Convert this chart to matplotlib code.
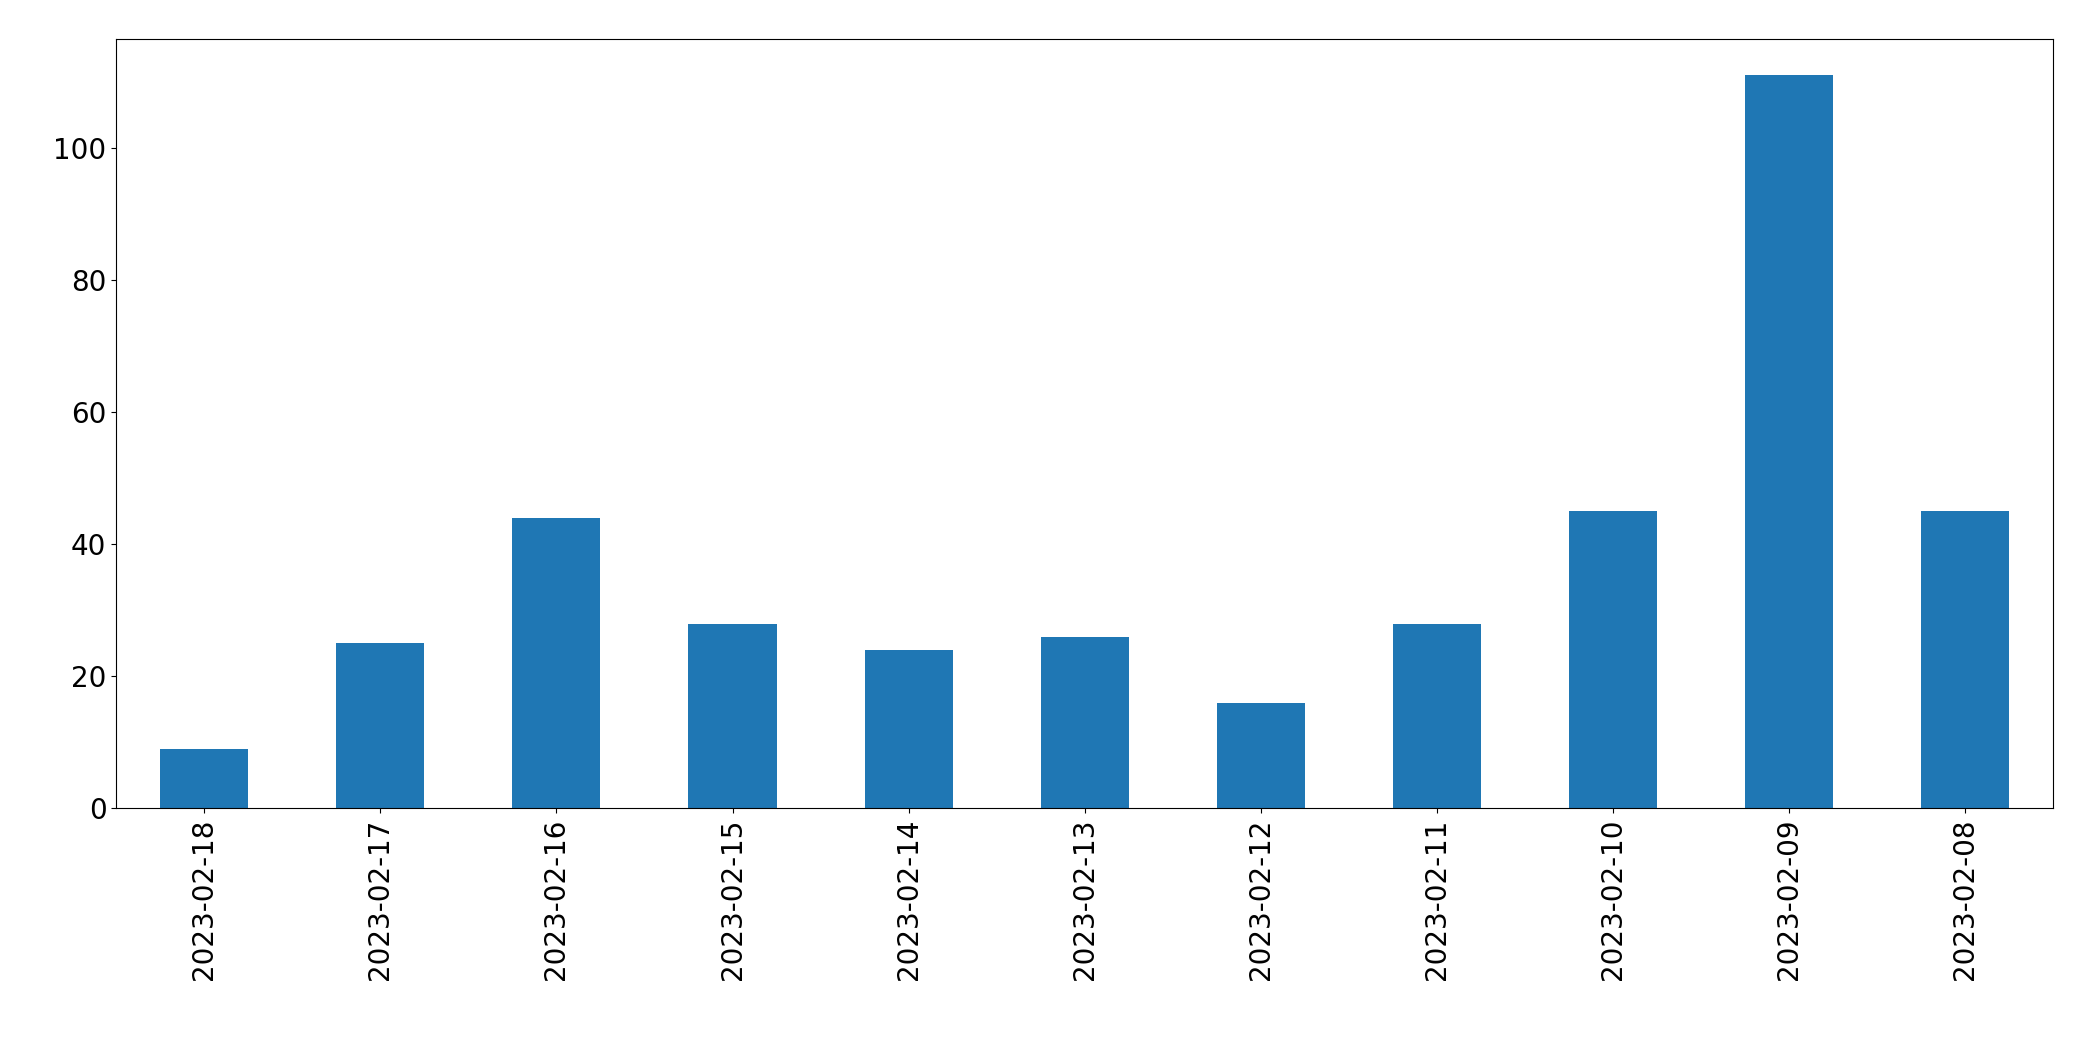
from matplotlib import pyplot as plt
import numpy as np

dates = ["2023-02-18", "2023-02-17", "2023-02-16", "2023-02-15", "2023-02-14",
         "2023-02-13", "2023-02-12", "2023-02-11", "2023-02-10", "2023-02-09",
         "2023-02-08"]
counts = [9, 25, 44, 28, 24, 26, 16, 28, 45, 111, 45]

fig = plt.figure(figsize=(20.93, 10.61), dpi=100)
ax = fig.add_axes([0.0555, 0.238, 0.9255, 0.7255])
x = np.arange(len(dates))
ax.bar(x, counts, width=0.5, color="#1f77b4")
ax.set_xticks(x)
ax.set_xticklabels(dates, rotation=90)
ax.set_xlim(-0.5, len(dates) - 0.5)
ax.set_ylim(0, max(counts) * 1.05)
ax.tick_params(labelsize=20)
fig.savefig("out.png")
